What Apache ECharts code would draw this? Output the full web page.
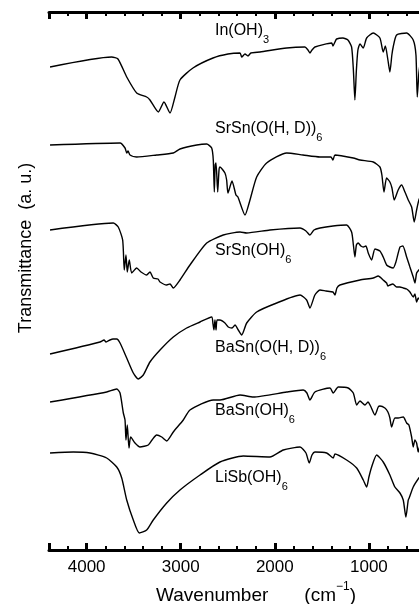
<!DOCTYPE html>
<html>
<head>
<meta charset="utf-8">
<script src="https://cdn.jsdelivr.net/npm/echarts@6/dist/echarts.min.js"></script>
<style>
  html, body { margin: 0; padding: 0; background: #fff; }
  #ir_chart { width: 419px; height: 604px; }
</style>
</head>
<body>
<div id="ir_chart"></div>
<script>
// [wavenumber (cm-1), transmittance (a.u., stacked offset)]
var inOH3 = [[4389,483],[3734,493],[3667,491],[3574,473],[3468,457],[3362,453],[3327,450],[3238,438],[3178,448],[3114,437],[3061,453],[3008,470],[2870,482],[2657,492],[2498,496],[2370,497],[2352,493],[2317,496],[2285,494],[2254,497],[2158,498],[1874,502],[1680,503],[1648,500],[1627,497],[1605,500],[1574,503],[1396,507],[1382,504],[1361,508],[1343,511],[1276,512],[1223,510],[1184,503],[1165,480],[1149,450],[1133,480],[1117,500],[1095,506],[1060,502],[1024,512],[954,517],[883,512],[848,498],[825,504],[798,490],[777,478],[756,495],[742,503],[706,515],[599,517],[529,510],[500,495],[486,453],[469,477],[450,490]];
var srSnOHD = [[4389,405],[3645,407],[3592,402],[3574,397],[3560,399],[3539,395],[3468,393],[3255,395],[3079,397],[3008,401],[2830,405],[2724,406],[2671,402],[2654,390],[2643,358],[2634,385],[2625,387],[2607,358],[2593,380],[2583,383],[2530,377],[2512,370],[2498,357],[2455,369],[2413,355],[2392,353],[2317,335],[2264,350],[2193,373],[2087,387],[1874,397],[1701,395],[1520,393],[1404,393],[1382,390],[1361,395],[1166,392],[1095,390],[954,388],[883,383],[862,375],[840,358],[812,372],[777,368],[755,362],[731,350],[689,360],[652,365],[617,358],[582,350],[546,343],[518,328],[493,340],[469,350],[447,355]];
var srSnOH = [[4389,320],[3717,327],[3664,323],[3617,310],[3600,280],[3582,295],[3568,278],[3547,290],[3521,277],[3468,282],[3422,278],[3362,275],[3327,278],[3292,272],[3242,271],[3220,268],[3149,265],[3114,266],[3079,262],[3008,270],[2902,285],[2724,307],[2548,315],[2370,318],[2299,317],[2052,320],[1732,322],[1669,319],[1627,315],[1584,320],[1520,322],[1382,324],[1237,325],[1184,318],[1165,305],[1149,293],[1133,305],[1114,307],[1085,304],[1060,303],[1032,304],[1007,297],[971,290],[936,301],[883,299],[848,293],[812,285],[777,283],[742,282],[713,288],[670,303],[639,304],[599,293],[564,283],[529,273],[511,267],[493,277],[469,280],[450,282]];
var baSnOHD = [[4389,196],[3858,208],[3815,210],[3794,208],[3752,210],[3720,211],[3680,211],[3645,207],[3574,192],[3504,177],[3451,171],[3398,175],[3327,188],[3220,200],[3079,213],[2937,222],[2795,228],[2671,233],[2657,226],[2647,220],[2636,230],[2625,220],[2614,230],[2583,230],[2530,227],[2495,223],[2455,222],[2423,225],[2388,220],[2352,215],[2299,227],[2193,238],[1980,247],[1732,255],[1662,250],[1627,242],[1574,255],[1520,260],[1457,259],[1382,258],[1361,255],[1340,262],[1308,265],[1095,270],[954,272],[901,274],[848,270],[812,267],[798,264],[777,265],[745,266],[706,263],[670,263],[635,262],[599,261],[564,258],[529,253],[511,256],[493,248],[476,252],[458,250]];
var baSnOH = [[4389,148],[3787,158],[3680,161],[3645,157],[3610,137],[3592,130],[3582,110],[3568,125],[3550,102],[3532,113],[3486,107],[3433,103],[3345,105],[3305,110],[3256,115],[3202,113],[3149,109],[3079,118],[2973,130],[2902,140],[2654,150],[2583,150],[2370,155],[2229,153],[1874,158],[1698,160],[1659,157],[1627,150],[1574,158],[1414,162],[1379,157],[1326,163],[1220,162],[1166,157],[1130,145],[1095,149],[1042,145],[1010,148],[978,143],[936,135],[901,143],[883,144],[830,142],[798,138],[777,132],[759,123],[724,132],[689,132],[635,133],[599,127],[575,125],[546,113],[529,103],[511,110],[493,107],[476,98],[458,105]];
var liSbOH = [[4389,97],[4142,98],[3964,97],[3787,92],[3680,83],[3627,72],[3574,50],[3504,30],[3440,17],[3362,20],[3292,30],[3149,47],[3008,60],[2795,75],[2583,88],[2335,94],[2052,93],[1910,100],[1732,103],[1669,97],[1634,87],[1605,95],[1574,98],[1449,97],[1379,92],[1361,96],[1237,90],[1130,82],[1060,70],[1024,63],[1000,73],[971,83],[918,95],[848,88],[777,75],[724,63],[670,57],[635,50],[607,33],[582,50],[572,52],[529,63],[469,72],[447,74]];

var spectra = [inOH3, srSnOHD, srSnOH, baSnOHD, baSnOH, liSbOH];
// sample names, split into main text and subscript
var sampleNames = [["In(OH)", "3"], ["SrSn(O(H, D))", "6"], ["SrSn(OH)", "6"], ["BaSn(O(H, D))", "6"], ["BaSn(OH)", "6"], ["LiSb(OH)", "6"]];
var labelTops = [23, 121, 243, 340, 403, 470];
var xTickLabels = [1000, 2000, 3000, 4000];

var FONT = "'Liberation Sans', Arial, sans-serif";
var ir_chart = echarts.init(document.getElementById("ir_chart"));

function baseX(position, major) {
  return {
    type: "value",
    position: position,
    min: 0,
    max: 4400,
    inverse: true,
    interval: major ? 1000 : 200,
    splitLine: { show: false },
    axisLine: { show: !major, lineStyle: { color: "#000", width: 3 } },
    axisTick: {
      inside: true,
      length: major ? 7 : 4,
      lineStyle: { color: "#000", width: major ? 3 : 2 },
    },
    axisLabel: { show: false },
  };
}

var xBottomMajor = baseX("bottom", true);
xBottomMajor.axisLabel = {
  show: true,
  margin: 9,
  color: "#000",
  fontSize: 17,
  fontFamily: FONT,
  formatter: function (v) {
    return xTickLabels.indexOf(v) >= 0 ? String(v) : "";
  },
};
xBottomMajor.name = "{a|Wavenumber}{b|(cm}{sup|\u22121}{a|)}";
xBottomMajor.nameLocation = "middle";
xBottomMajor.nameGap = 28;
xBottomMajor.nameTextStyle = {
  color: "#000",
  fontFamily: FONT,
  rich: {
    a: { fontSize: 19, lineHeight: 24, verticalAlign: "bottom", fontFamily: FONT, color: "#000" },
    b: { fontSize: 19, lineHeight: 24, verticalAlign: "bottom", fontFamily: FONT, color: "#000", padding: [0, 0, 0, 36] },
    sup: { fontSize: 12, lineHeight: 12, verticalAlign: "top", fontFamily: FONT, color: "#000" },
  },
};

var labelGraphics = sampleNames.map(function (n, i) {
  return {
    type: "text",
    x: 215,
    y: labelTops[i],
    style: {
      text: "{m|" + n[0] + "}{s|" + n[1] + "}",
      rich: {
        m: { fontSize: 16, lineHeight: 22, verticalAlign: "top", fontFamily: FONT, fill: "#000" },
        s: { fontSize: 11, lineHeight: 11, verticalAlign: "bottom", fontFamily: FONT, fill: "#000" },
      },
    },
  };
});

var option = {
  backgroundColor: "#fff",
  animation: false,
  grid: { left: 49, right: -44, top: 12, bottom: 54, containLabel: false, outerBoundsMode: "none" },
  xAxis: [baseX("bottom", false), xBottomMajor, baseX("top", false), baseX("top", true)],
  yAxis: {
    type: "value",
    min: 0,
    max: 538,
    splitLine: { show: false },
    axisLine: { show: true, lineStyle: { color: "#000", width: 3 } },
    axisTick: { show: false },
    axisLabel: { show: false },
  },
  graphic: labelGraphics.concat([
    {
      type: "text",
      x: 26,
      y: 248,
      rotation: Math.PI / 2,
      style: {
        text: "Transmittance  (a. u.)",
        font: "18px " + FONT,
        fill: "#000",
        align: "center",
        verticalAlign: "middle",
      },
    },
  ]),
  series: spectra.map(function (d) {
    return {
      type: "line",
      xAxisIndex: 0,
      data: d,
      showSymbol: false,
      smooth: 0.2,
      clip: true,
      lineStyle: { color: "#000", width: 1.4 },
    };
  }),
};
ir_chart.setOption(option);
</script>
</body>
</html>
